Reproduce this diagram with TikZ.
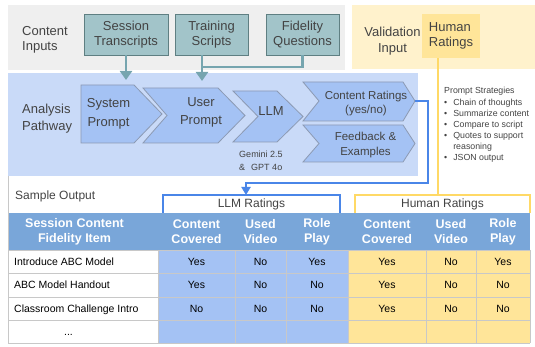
\documentclass[tikz,border=0pt]{standalone}
\usepackage{fontspec}
\setmainfont{Liberation Sans}
\usepackage{tikz}
\usepackage{xcolor}
\definecolor{band_gray}{HTML}{EFEFEF}
\definecolor{band_blue}{HTML}{C9DAF8}
\definecolor{band_yellow}{HTML}{FFF2CC}
\definecolor{box_teal}{HTML}{A2C4C9}
\definecolor{box_edge}{HTML}{5F7F82}
\definecolor{arr_teal}{HTML}{76A5AF}
\definecolor{chev_blue}{HTML}{A4C2F4}
\definecolor{chev_edge}{HTML}{8C9AB3}
\definecolor{line_blue}{HTML}{4A86E8}
\definecolor{line_yellow}{HTML}{FFD966}
\definecolor{hr_yellow}{HTML}{FFE599}
\definecolor{head_blue}{HTML}{79A6D9}
\definecolor{txt_gray}{HTML}{434343}
\definecolor{grid_gray}{HTML}{C8C8C8}
\usetikzlibrary{arrows.meta}

\begin{document}
\begin{tikzpicture}[x=1pt,y=-1pt,
    lbl/.style={text=txt_gray,font=\fontsize{13}{15.5}\selectfont,align=left,inner sep=0},
    inbox/.style={lbl,align=center,draw=box_edge,fill=box_teal,minimum height=41},
    chev/.style={draw=chev_edge,fill=chev_blue,line width=0.8},
    chevtxt/.style={lbl,align=center,font=\fontsize{13}{18.5}\selectfont},
    note/.style={text=txt_gray,font=\fontsize{9}{13}\selectfont,align=left,inner sep=0},
    headtxt/.style={text=white,font=\bfseries\fontsize{12.5}{15}\selectfont,align=center,inner sep=0},
    cell/.style={font=\fontsize{10.5}{12}\selectfont,text height=7.5,text depth=0,inner sep=0},
    brace/.style={text=txt_gray,font=\fontsize{12}{14}\selectfont,minimum height=18,inner sep=0},
    inarrow/.style={arr_teal,line width=2.5,-{Triangle[width=12pt,length=9pt]}}]
    \useasboundingbox (0,0) rectangle (535,347);
    %帯
    \fill[band_gray] (8,5) rectangle (345,70);
    \fill[band_yellow] (352,5) rectangle (535,69);
    \fill[band_blue] (8,73) rectangle (418,176);
    %入力
    \node[lbl,anchor=west] (ci) at (22,40) {Content\\Inputs};
    \node[inbox,minimum width=84] (st) at (126,34.5) {Session\\Transcripts};
    \node[inbox,minimum width=73] (ts) at (211.5,34.5) {Training\\Scripts};
    \node[inbox,minimum width=73] (fq) at (302.5,34.5) {Fidelity\\Questions};
    \node[lbl,align=center] (vi) at (392.5,41) {Validation\\Input};
    \node[lbl,fill=hr_yellow,minimum width=58,minimum height=44] (hr) at (451,36) {Human\\Ratings};
    %分析
    \node[lbl,anchor=west,font=\fontsize{13}{16.5}\selectfont] (ap) at (22,118.5) {Analysis\\Pathway};
    \draw[chev] (81,85)--(134,85)--(162,114)--(134,143)--(81,143)--cycle;
    \draw[chev] (143,88)--(218,88)--(245,115.5)--(218,143)--(143,143)--(167,115.5)--cycle;
    \draw[chev] (233,91)--(277,91)--(303,116.5)--(277,142)--(233,142)--(258,116.5)--cycle;
    \draw[chev] (303,82)--(403,82)--(415,101)--(403,121)--(303,121)--(319,101)--cycle;
    \draw[chev] (303,125)--(403,125)--(415,143.5)--(403,162)--(303,162)--(319,143.5)--cycle;
    \node[chevtxt] (sp) at (108.5,114) {System\\Prompt};
    \node[chevtxt] (up) at (201,112.5) {User\\Prompt};
    \node[chevtxt] (llm) at (271,111) {LLM};
    \node[chevtxt,font=\fontsize{11.5}{14}\selectfont] (cr) at (366,104) {Content Ratings\\(yes/no)};
    \node[chevtxt,font=\fontsize{11.5}{15}\selectfont] (fb) at (365.5,145.5) {Feedback \&\\Examples};
    \node[note] (gm) at (261,160.5) {Gemini 2.5\\\&\hspace{6pt}GPT 4o};
    \node[note,anchor=north west,font=\fontsize{8.8}{11}\selectfont] (ps) at (444,85.5) {%
        \begin{tabular}{@{}l@{\hspace{6pt}}l@{}}
        \multicolumn{2}{@{}l@{}}{Prompt Strategies}\\[1pt]
        \textbullet & Chain of thoughts\\
        \textbullet & Summarize content\\
        \textbullet & Compare to script\\
        \textbullet & Quotes to support\\
                    & reasoning\\
        \textbullet & JSON output
        \end{tabular}};
    %矢印
    \coordinate (sp_in) at (126,80);
    \coordinate (up_in) at (202,81);
    \coordinate (fq_join) at (202,67);
    \coordinate (cr_tip) at (415,101);
    \coordinate (llm_bend) at (428,183);
    \coordinate (llm_in) at (246,195);
    \coordinate (hum_in) at (438,195);
    \draw[inarrow] (st.south) -- (sp_in);
    \draw[inarrow] (ts.south -| up_in) -- (up_in);
    \draw[arr_teal,line width=2.5] (fq.south) |- (fq_join);
    \draw[line_blue,line width=2,-{Triangle[width=9pt,length=8pt]}] (cr_tip) -| (llm_bend) -| (llm_in);
    \draw[line_yellow,line width=2] (hr.south -| hum_in) -- (hum_in);
    %出力
    \node[lbl,anchor=west,font=\fontsize{12}{14}\selectfont] (so) at (15,196) {Sample Output};
    \node[brace,minimum width=177] (lr) at (251.5,204) {LLM Ratings};
    \draw[line_blue,line width=2] (lr.south west) -- (lr.north west) -- (lr.north east) -- (lr.south east);
    \node[brace,minimum width=175] (hrt) at (442.5,204) {Human Ratings};
    \draw[line_yellow,line width=2] (hrt.south west) -- (hrt.north west) -- (hrt.north east) -- (hrt.south east);
    %表
    \fill[head_blue] (8,213) rectangle (530,250);
    \fill[chev_blue] (158,250) rectangle (348,343);
    \fill[hr_yellow] (348,250) rectangle (530,343);
    \foreach \y in {250,273,297,320,343} \draw[grid_gray] (8,\y) -- (530,\y);
    \foreach \x in {158,235,286,348,426,476,530} \draw[grid_gray] (\x,250) -- (\x,343);
    \draw[grid_gray] (8,176) -- (8,343);
    \foreach \x/\t [count=\i] in {74.5/{Session Content\\Fidelity Item},196.5/{Content\\Covered},260.5/{Used\\Video},
        317/{Role\\Play},387/{Content\\Covered},451/{Used\\Video},503/{Role\\Play}}
        \node[headtxt] (h\i) at (\x,231.5) {\t};
    \foreach \y/\t/\a/\b/\c/\d/\e/\f [count=\r] in {261.5/Introduce ABC Model/Yes/No/Yes/Yes/No/Yes,
        285/ABC Model Handout/Yes/No/No/Yes/No/No,308.5/Classroom Challenge Intro/No/No/No/Yes/No/No}{
        \node[cell,anchor=west] (r\r-1) at (14,\y) {\t};
        \node[cell] (r\r-2) at (196.5,\y) {\a};
        \node[cell] (r\r-3) at (260.5,\y) {\b};
        \node[cell] (r\r-4) at (317,\y) {\c};
        \node[cell] (r\r-5) at (387,\y) {\d};
        \node[cell] (r\r-6) at (451,\y) {\e};
        \node[cell] (r\r-7) at (503,\y) {\f};
    }
    \node[cell] (r4-1) at (68.5,331.5) {...};
\end{tikzpicture}
\end{document}
